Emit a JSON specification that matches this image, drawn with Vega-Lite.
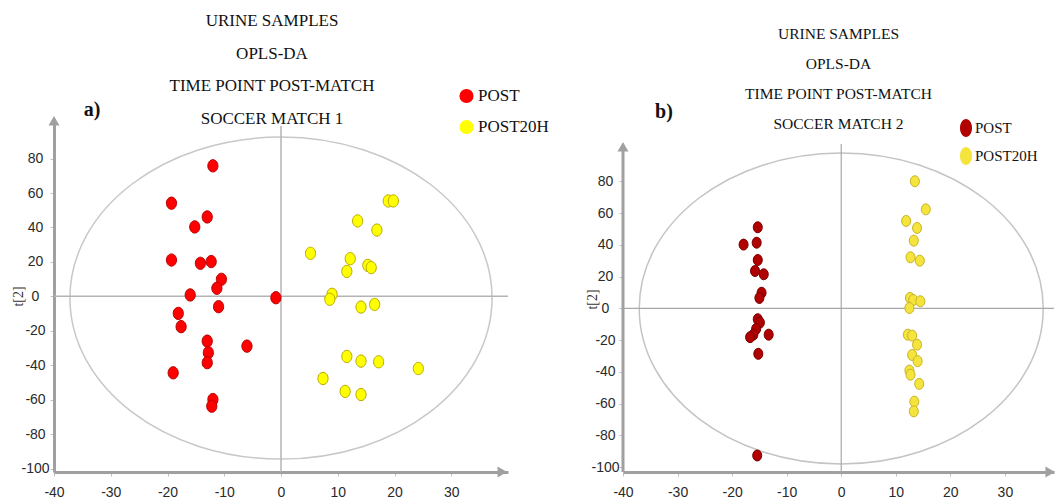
{
  "$schema": "https://vega.github.io/schema/vega-lite/v6.json",
  "background": "white",
  "padding": {"left": 11, "top": 12, "right": 0, "bottom": 0},
  "bounds": "flush",
  "spacing": 115,
  "config": {"view": {"stroke": null}, "font": "Liberation Serif", "axis": {"labelOverlap": false, "labelFlush": false}},
  "datasets": {
    "m1": [
      {"group": "POST", "t1": -12.0, "t2": 75.8},
      {"group": "POST", "t1": -19.3, "t2": 54.1},
      {"group": "POST", "t1": -13.0, "t2": 46.1},
      {"group": "POST", "t1": -15.2, "t2": 40.3},
      {"group": "POST", "t1": -19.3, "t2": 21.1},
      {"group": "POST", "t1": -14.2, "t2": 19.2},
      {"group": "POST", "t1": -12.3, "t2": 20.2},
      {"group": "POST", "t1": -10.5, "t2": 9.9},
      {"group": "POST", "t1": -11.3, "t2": 4.7},
      {"group": "POST", "t1": -16.0, "t2": 0.8},
      {"group": "POST", "t1": -0.9, "t2": -0.8},
      {"group": "POST", "t1": -11.0, "t2": -6.0},
      {"group": "POST", "t1": -18.1, "t2": -9.9},
      {"group": "POST", "t1": -17.6, "t2": -17.6},
      {"group": "POST", "t1": -13.0, "t2": -26.0},
      {"group": "POST", "t1": -12.8, "t2": -32.7},
      {"group": "POST", "t1": -13.0, "t2": -38.5},
      {"group": "POST", "t1": -6.0, "t2": -28.9},
      {"group": "POST", "t1": -19.0, "t2": -44.4},
      {"group": "POST", "t1": -12.0, "t2": -59.9},
      {"group": "POST", "t1": -12.2, "t2": -63.8},
      {"group": "POST20H", "t1": 18.9, "t2": 55.4},
      {"group": "POST20H", "t1": 19.8, "t2": 55.4},
      {"group": "POST20H", "t1": 13.5, "t2": 43.8},
      {"group": "POST20H", "t1": 16.9, "t2": 38.5},
      {"group": "POST20H", "t1": 5.2, "t2": 25.0},
      {"group": "POST20H", "t1": 12.2, "t2": 21.9},
      {"group": "POST20H", "t1": 11.6, "t2": 14.5},
      {"group": "POST20H", "t1": 15.3, "t2": 18.0},
      {"group": "POST20H", "t1": 15.9, "t2": 16.7},
      {"group": "POST20H", "t1": 9.0, "t2": 1.2},
      {"group": "POST20H", "t1": 8.6, "t2": -1.7},
      {"group": "POST20H", "t1": 14.1, "t2": -6.2},
      {"group": "POST20H", "t1": 16.5, "t2": -4.7},
      {"group": "POST20H", "t1": 11.6, "t2": -34.9},
      {"group": "POST20H", "t1": 14.1, "t2": -37.6},
      {"group": "POST20H", "t1": 17.2, "t2": -38.0},
      {"group": "POST20H", "t1": 24.2, "t2": -41.9},
      {"group": "POST20H", "t1": 7.4, "t2": -47.7},
      {"group": "POST20H", "t1": 11.3, "t2": -55.2},
      {"group": "POST20H", "t1": 14.1, "t2": -57.0}
    ],
    "m2": [
      {"group": "POST", "t1": -15.3, "t2": 51.1},
      {"group": "POST", "t1": -17.9, "t2": 40.2},
      {"group": "POST", "t1": -15.5, "t2": 41.4},
      {"group": "POST", "t1": -15.3, "t2": 30.5},
      {"group": "POST", "t1": -15.8, "t2": 23.6},
      {"group": "POST", "t1": -14.2, "t2": 21.5},
      {"group": "POST", "t1": -14.6, "t2": 9.9},
      {"group": "POST", "t1": -15.0, "t2": 6.6},
      {"group": "POST", "t1": -15.3, "t2": -6.8},
      {"group": "POST", "t1": -14.9, "t2": -8.9},
      {"group": "POST", "t1": -15.6, "t2": -12.9},
      {"group": "POST", "t1": -16.1, "t2": -16.5},
      {"group": "POST", "t1": -16.7, "t2": -18.1},
      {"group": "POST", "t1": -13.3, "t2": -16.5},
      {"group": "POST", "t1": -15.2, "t2": -28.6},
      {"group": "POST", "t1": -15.4, "t2": -92.6},
      {"group": "POST20H", "t1": 13.5, "t2": 80.1},
      {"group": "POST20H", "t1": 15.5, "t2": 62.4},
      {"group": "POST20H", "t1": 11.9, "t2": 55.1},
      {"group": "POST20H", "t1": 13.9, "t2": 50.7},
      {"group": "POST20H", "t1": 13.3, "t2": 42.7},
      {"group": "POST20H", "t1": 12.7, "t2": 32.2},
      {"group": "POST20H", "t1": 14.4, "t2": 30.1},
      {"group": "POST20H", "t1": 12.6, "t2": 6.6},
      {"group": "POST20H", "t1": 13.2, "t2": 5.3},
      {"group": "POST20H", "t1": 14.5, "t2": 4.5},
      {"group": "POST20H", "t1": 12.5, "t2": 0.3},
      {"group": "POST20H", "t1": 12.2, "t2": -16.5},
      {"group": "POST20H", "t1": 13.0, "t2": -17.1},
      {"group": "POST20H", "t1": 13.9, "t2": -22.8},
      {"group": "POST20H", "t1": 13.0, "t2": -29.3},
      {"group": "POST20H", "t1": 14.0, "t2": -33.2},
      {"group": "POST20H", "t1": 12.5, "t2": -39.1},
      {"group": "POST20H", "t1": 12.7, "t2": -41.7},
      {"group": "POST20H", "t1": 14.3, "t2": -47.5},
      {"group": "POST20H", "t1": 13.4, "t2": -58.7},
      {"group": "POST20H", "t1": 13.3, "t2": -64.8}
    ]
  },
  "resolve": {
    "scale": {"x": "independent", "y": "independent", "color": "independent", "stroke": "independent"},
    "legend": {"color": "independent"},
    "axis": {"x": "independent", "y": "independent"}
  },
  "hconcat": [
    {
      "width": 454,
      "height": 353,
      "title": {
        "text": ["URINE SAMPLES", "OPLS-DA", "TIME POINT POST-MATCH", "SOCCER MATCH 1"],
        "anchor": "middle", "frame": "group", "orient": "top", "offset": 0,
        "baseline": "bottom", "dx": -9, "dy": 57,
        "font": "Liberation Serif", "fontSize": 17, "fontWeight": "normal",
        "lineHeight": 32.5, "color": "#111"
      },
      "data": {"name": "m1"},
      "layer": [
        {
          "data": {"values": [{}]},
          "mark": {"type": "point", "filled": false, "shape": "M1.311,0C1.311,0.552,0.724,1,0,1C-0.724,1,-1.311,0.552,-1.311,0C-1.311,-0.552,-0.724,-1,0,-1C0.724,-1,1.311,-0.552,1.311,0Z", "size": 103684, "stroke": "#c8c8c8", "strokeWidth": 1.5, "opacity": 1},
          "encoding": {"x": {"datum": 0}, "y": {"datum": -1}}
        },
        {
          "data": {"values": [{}]},
          "mark": {"type": "rule", "color": "#b4b4b4", "strokeWidth": 1.5},
          "encoding": {"x": {"datum": 0}, "y": {"datum": -102}, "y2": {"datum": 99}}
        },
        {
          "data": {"values": [{}]},
          "mark": {"type": "rule", "color": "#b4b4b4", "strokeWidth": 1.5},
          "encoding": {"y": {"datum": 0}}
        },
        {
          "data": {"values": [{}]},
          "mark": {"type": "point", "shape": "triangle-up", "filled": true, "color": "#a0a0a0", "size": 120, "opacity": 1},
          "encoding": {"x": {"datum": -40}, "y": {"datum": 102}}
        },
        {
          "data": {"values": [{}]},
          "mark": {"type": "point", "shape": "triangle-right", "filled": true, "color": "#a0a0a0", "size": 120, "opacity": 1},
          "encoding": {"x": {"datum": 39}, "y": {"datum": -102}}
        },
        {
          "data": {"values": [{}]},
          "mark": {"type": "text", "text": "a)", "font": "Liberation Serif", "fontWeight": "bold", "fontSize": 20, "align": "center", "baseline": "middle", "color": "#111"},
          "encoding": {"x": {"datum": -33.3}, "y": {"datum": 108}}
        },
        {
          "mark": {"type": "point", "filled": true, "shape": "M0.83,0C0.83,0.552,0.458,1,0,1C-0.458,1,-0.83,0.552,-0.83,0C-0.83,-0.552,-0.458,-1,0,-1C0.458,-1,0.83,-0.552,0.83,0Z", "size": 150, "strokeWidth": 1, "opacity": 1},
          "encoding": {
            "x": {"field": "t1", "type": "quantitative",
              "scale": {"domain": [-40, 40], "nice": false, "zero": false},
              "axis": {"values": [-40, -30, -20, -10, 0, 10, 20, 30], "tickCount": 20, "title": null, "grid": false,
                "labelExpr": "replace(datum.label, '\u2212', '-')",
                "domainColor": "#a0a0a0", "domainWidth": 3, "tickColor": "#c0c0c0", "tickSize": 4,
                "labelPadding": 9, "labelFont": "Liberation Sans", "labelFontSize": 14, "labelColor": "#2a2a2a",
                "labelFlush": false, "labelOverlap": false}},
            "y": {"field": "t2", "type": "quantitative",
              "scale": {"domain": [-102, 103], "nice": false, "zero": false},
              "axis": {"values": [-100, -80, -60, -40, -20, 0, 20, 40, 60, 80], "tickCount": 20, "title": "t[2]", "grid": false,
                "labelExpr": "replace(datum.label, '\u2212', '-')",
                "domainColor": "#a0a0a0", "domainWidth": 3, "tickColor": "#c0c0c0", "tickSize": 4,
                "labelPadding": 15, "labelAlign": "center", "labelBaseline": "middle",
                "labelFont": "Liberation Sans", "labelFontSize": 14, "labelColor": "#2a2a2a",
                "labelFlush": false, "labelOverlap": false,
                "titleFont": "Liberation Serif", "titleFontSize": 14, "titleFontWeight": "normal", "titleColor": "#333",
                "titleX": -36, "titleY": 177, "titleAngle": 270, "titleBaseline": "middle", "titleAlign": "center"}},
            "color": {"field": "group", "type": "nominal",
              "scale": {"domain": ["POST", "POST20H"], "range": ["#ff0000", "#ffff00"]},
              "legend": {"orient": "none", "legendX": 404, "legendY": -31.5, "title": null,
                "symbolType": "circle", "symbolSize": 200, "symbolStrokeWidth": 0,
                "labelFont": "Liberation Serif", "labelFontSize": 17, "labelColor": "#111",
                "rowPadding": 13, "labelOffset": 3, "padding": 0}},
            "stroke": {"field": "group", "type": "nominal",
              "scale": {"domain": ["POST", "POST20H"], "range": ["#b40000", "#b8a800"]},
              "legend": null}
          }
        }
      ]
    },
    {
      "width": 431,
      "height": 353,
      "title": {
        "text": ["URINE SAMPLES", "OPLS-DA", "TIME POINT POST-MATCH", "SOCCER MATCH 2"],
        "anchor": "middle", "frame": "group", "orient": "top", "offset": 0,
        "baseline": "bottom", "dx": 0, "dy": 46.2,
        "font": "Liberation Serif", "fontSize": 15.5, "fontWeight": "normal",
        "lineHeight": 30, "color": "#111"
      },
      "data": {"name": "m2"},
      "layer": [
        {
          "data": {"values": [{}]},
          "mark": {"type": "point", "filled": false, "shape": "M1.299,0C1.299,0.552,0.7175,1,0,1C-0.7175,1,-1.299,0.552,-1.299,0C-1.299,-0.552,-0.7175,-1,0,-1C0.7175,-1,1.299,-0.552,1.299,0Z", "size": 96721, "stroke": "#c4c4c4", "strokeWidth": 1.5, "opacity": 1},
          "encoding": {"x": {"datum": 0}, "y": {"datum": 0}}
        },
        {
          "data": {"values": [{}]},
          "mark": {"type": "rule", "color": "#a8a8a8", "strokeWidth": 1.2},
          "encoding": {"x": {"datum": 0}, "y": {"datum": -103}, "y2": {"datum": 103.5}}
        },
        {
          "data": {"values": [{}]},
          "mark": {"type": "rule", "color": "#a8a8a8", "strokeWidth": 1.2},
          "encoding": {"y": {"datum": 0}}
        },
        {
          "data": {"values": [{}]},
          "mark": {"type": "rule", "color": "#a0a0a0", "strokeWidth": 3},
          "encoding": {"x": {"datum": -40}, "y": {"datum": -103}, "y2": {"datum": 101.8}}
        },
        {
          "data": {"values": [{}]},
          "mark": {"type": "point", "shape": "triangle-up", "filled": true, "color": "#a0a0a0", "size": 120, "opacity": 1},
          "encoding": {"x": {"datum": -40}, "y": {"datum": 101.8}}
        },
        {
          "data": {"values": [{}]},
          "mark": {"type": "point", "shape": "triangle-right", "filled": true, "color": "#a0a0a0", "size": 120, "opacity": 1},
          "encoding": {"x": {"datum": 38.3}, "y": {"datum": -103}}
        },
        {
          "data": {"values": [{}]},
          "mark": {"type": "text", "text": "b)", "font": "Liberation Serif", "fontWeight": "bold", "fontSize": 20, "align": "center", "baseline": "middle", "color": "#111"},
          "encoding": {"x": {"datum": -32.5}, "y": {"datum": 124}}
        },
        {
          "mark": {"type": "point", "filled": true, "shape": "M0.82,0C0.82,0.552,0.453,1,0,1C-0.453,1,-0.82,0.552,-0.82,0C-0.82,-0.552,-0.453,-1,0,-1C0.453,-1,0.82,-0.552,0.82,0Z", "size": 121, "strokeWidth": 1, "opacity": 1},
          "encoding": {
            "x": {"field": "t1", "type": "quantitative",
              "scale": {"domain": [-40, 39], "nice": false, "zero": false},
              "axis": {"values": [-40, -30, -20, -10, 0, 10, 20, 30], "tickCount": 20, "title": null, "grid": false,
                "labelExpr": "replace(datum.label, '\u2212', '-')",
                "domainColor": "#a0a0a0", "domainWidth": 3, "tickColor": "#c0c0c0", "tickSize": 4,
                "labelPadding": 9, "labelFont": "Liberation Sans", "labelFontSize": 14, "labelColor": "#2a2a2a",
                "labelFlush": false, "labelOverlap": false}},
            "y": {"field": "t2", "type": "quantitative",
              "scale": {"domain": [-103, 119.3], "nice": false, "zero": false},
              "axis": {"values": [-100, -80, -60, -40, -20, 0, 20, 40, 60, 80], "tickCount": 20, "title": "t[2]", "grid": false,
                "labelExpr": "replace(datum.label, '\u2212', '-')",
                "domain": false, "tickColor": "#c0c0c0", "tickSize": 4,
                "labelPadding": 14, "labelAlign": "center", "labelBaseline": "middle",
                "labelFont": "Liberation Sans", "labelFontSize": 14, "labelColor": "#2a2a2a",
                "labelFlush": false, "labelOverlap": false,
                "titleFont": "Liberation Serif", "titleFontSize": 14, "titleFontWeight": "normal", "titleColor": "#333",
                "titleX": -31, "titleY": 180, "titleAngle": 270, "titleBaseline": "middle", "titleAlign": "center"}},
            "color": {"field": "group", "type": "nominal",
              "scale": {"domain": ["POST", "POST20H"], "range": ["#b00000", "#f5e43c"]},
              "legend": {"orient": "none", "legendX": 334, "legendY": 0, "title": null,
                "symbolType": "M0.67,0C0.67,0.552,0.37,1,0,1C-0.37,1,-0.67,0.552,-0.67,0C-0.67,-0.552,-0.37,-1,0,-1C0.37,-1,0.67,-0.552,0.67,0Z",
                "symbolSize": 324, "symbolStrokeWidth": 0,
                "labelFont": "Liberation Serif", "labelFontSize": 15, "labelColor": "#111",
                "rowPadding": 10, "labelOffset": 0, "padding": 0}},
            "stroke": {"field": "group", "type": "nominal",
              "scale": {"domain": ["POST", "POST20H"], "range": ["#7a0000", "#c8b428"]},
              "legend": null}
          }
        }
      ]
    }
  ]
}
